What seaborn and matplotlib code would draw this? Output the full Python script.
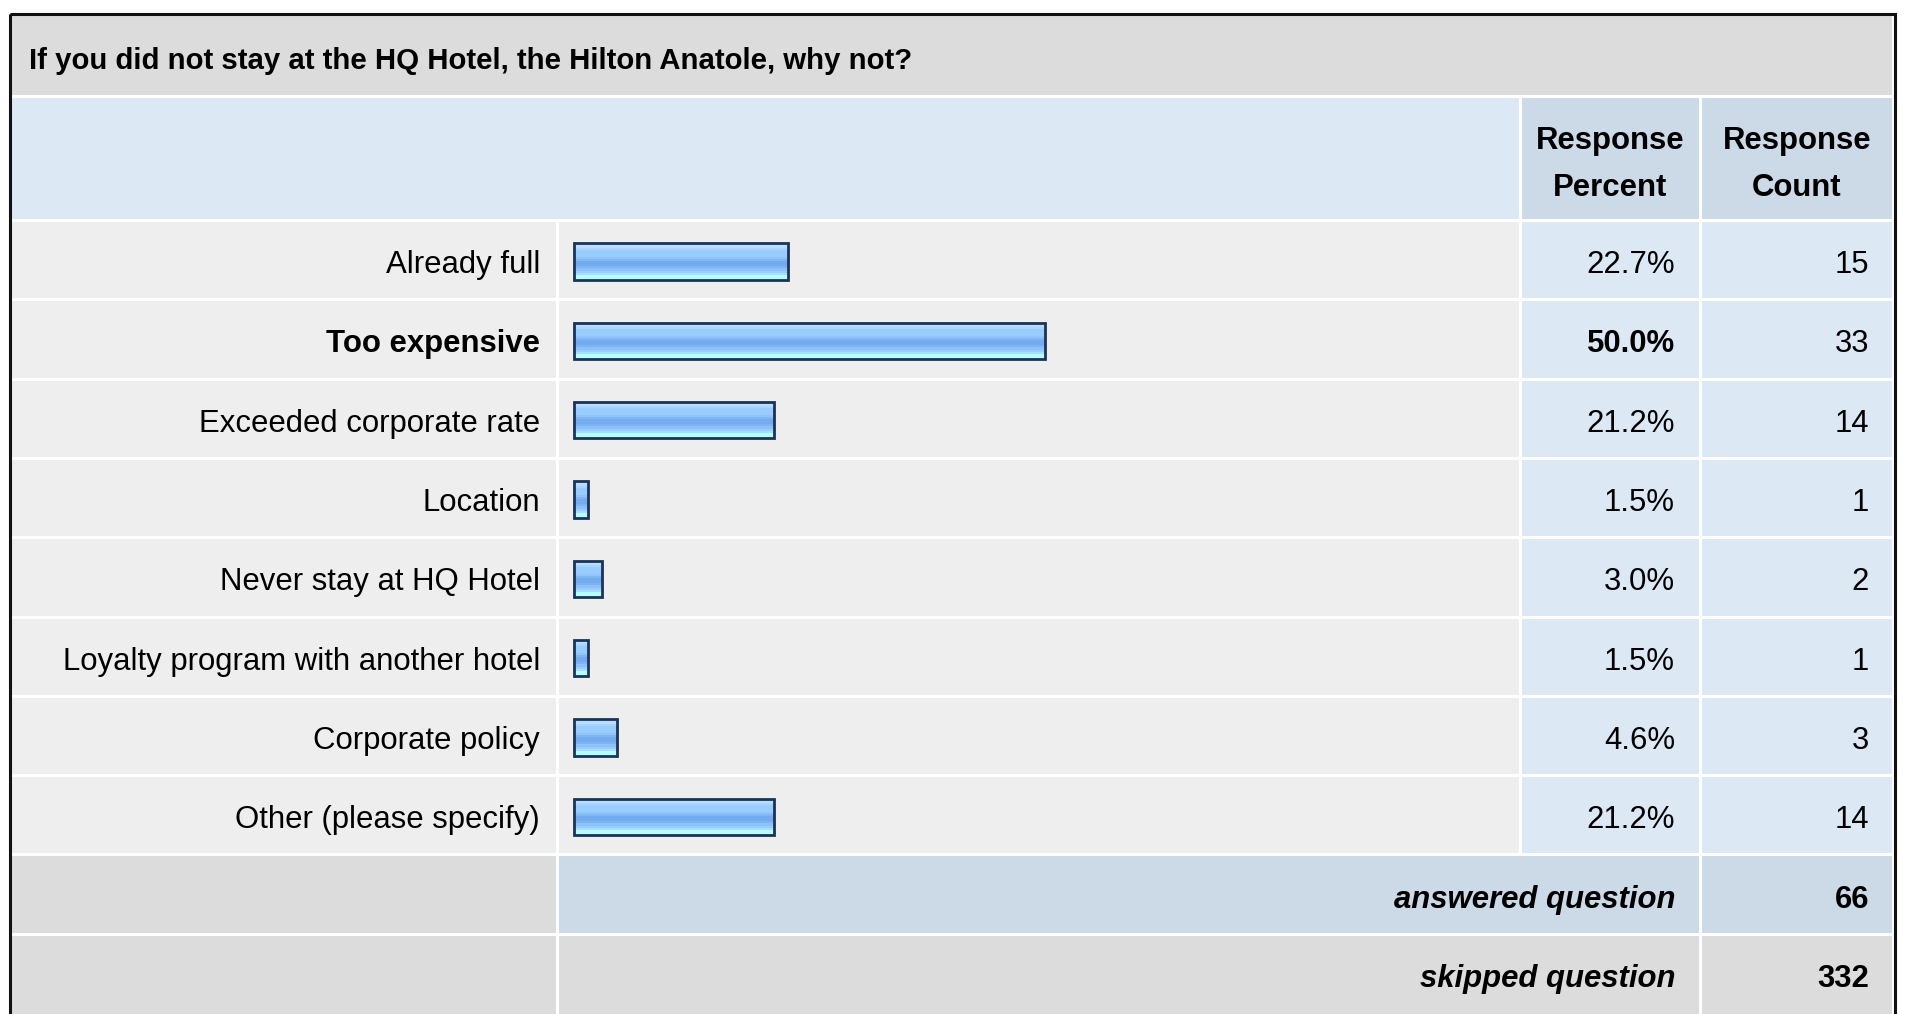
import numpy as np
import pandas as pd
import matplotlib.pyplot as plt
import seaborn as sns
from matplotlib.patches import Rectangle
from matplotlib.colors import to_rgb

# Dữ liệu
title = 'If you did not stay at the HQ Hotel, the Hilton Anatole, why not?'
answers = ['Already full', 'Too expensive', 'Exceeded corporate rate', 'Location',
           'Never stay at HQ Hotel', 'Loyalty program with another hotel',
           'Corporate policy', 'Other (please specify)']
percents = [22.7, 50.0, 21.2, 1.5, 3.0, 1.5, 4.6, 21.2]
counts = [15, 33, 14, 1, 2, 1, 3, 14]
answered = 66
skipped = 332

sns.set_style('white')
plt.rcParams['font.family'] = ['Liberation Sans', 'DejaVu Sans']
plt.rcParams['text.color'] = 'black'

W, H = 1909, 1014
fig = plt.figure(figsize=(W / 100, H / 100), dpi=100)
ax = fig.add_axes([0, 0, 1, 1])
ax.set_xlim(0, W)
ax.set_ylim(H, 0)
ax.axis('off')

GRAY = '#dcdcdc'
ROW = '#eeeeee'
BLUE = '#dde8f5'
BLUE2 = '#ccd9e6'
FS = 22.4

# cột (pixel)
L0, L1 = 12, 556
B0, B1 = 559, 1519
P0, P1 = 1522, 1699
C0, C1 = 1702, 1892
ROW_TOP, ROW_H, GAP = 222, 79.3, 3


def cell(x0, x1, y0, y1, color):
    ax.add_patch(Rectangle((x0, y0), x1 - x0, y1 - y0, facecolor=color, edgecolor='none'))


# tiêu đề
cell(L0, C1, 16, 95, GRAY)
ax.text(29, 69, title, fontsize=21.2, fontweight='bold', ha='left', va='baseline')

# header
cell(L0, B1, 98, 219, BLUE)
cell(P0, P1, 98, 219, BLUE2)
cell(C0, C1, 98, 219, BLUE2)
for cx, sub in [((P0 + P1) / 2, 'Percent'), ((C0 + C1) / 2, 'Count')]:
    ax.text(cx, 149, 'Response', fontsize=FS, fontweight='bold', ha='center', va='baseline')
    ax.text(cx, 196, sub, fontsize=FS, fontweight='bold', ha='center', va='baseline')

# các dòng dữ liệu
best = int(np.argmax(percents))
for i, (lab, p, c) in enumerate(zip(answers, percents, counts)):
    y0 = ROW_TOP + i * ROW_H
    y1 = y0 + ROW_H - GAP
    yb = (y0 + y1) / 2 + 13
    cell(L0, L1, y0, y1, ROW)
    cell(B0, B1, y0, y1, ROW)
    cell(P0, P1, y0, y1, BLUE)
    cell(C0, C1, y0, y1, BLUE)
    w = 'bold' if i == best else 'normal'
    ax.text(540, yb, lab, fontsize=FS, fontweight=w, ha='right', va='baseline')
    ax.text(1675, yb, f'{p:.1f}%', fontsize=FS, fontweight=w, ha='right', va='baseline')
    ax.text(1869, yb, str(c), fontsize=FS, ha='right', va='baseline')

# answered / skipped
n = len(answers)
y0 = ROW_TOP + n * ROW_H
rows = [('answered question', answered, BLUE2, BLUE2), ('skipped question', skipped, GRAY, GRAY)]
for lab, val, mid, right in rows:
    y1 = y0 + ROW_H - GAP
    yb = (y0 + y1) / 2 + 13
    cell(L0, L1, y0, y1, GRAY)
    cell(B0, P1, y0, y1, mid)
    cell(C0, C1, y0, y1 + (40 if lab.startswith('skipped') else 0), right)
    ax.text(1675, yb, lab, fontsize=FS, fontweight='bold', style='italic', ha='right', va='baseline')
    ax.text(1869, yb, str(val), fontsize=FS, fontweight='bold', ha='right', va='baseline')
    y0 += ROW_H
cell(L0, L1, y0 - GAP, H + 10, GRAY)
cell(B0, P1, y0 - GAP, H + 10, GRAY)

# khung ngoài
ax.add_patch(Rectangle((10, 13.5), 1884.5, 1030, facecolor='none', edgecolor='#111111', lw=2.2))

# biểu đồ thanh
bx = fig.add_axes([B0 / W, 1 - (ROW_TOP + n * ROW_H) / H, (B1 - B0) / W, n * ROW_H / H])
df = pd.DataFrame({'answer': answers, 'percent': percents})
sns.barplot(data=df, x='percent', y='answer', orient='h', ax=bx, width=0.46,
            color='#99ccff', errorbar=None)
px_per_pct = 9.42
xmin = -15 / px_per_pct
xmax = xmin + (B1 - B0) / px_per_pct
grad = ['#cde7ff', '#b9ddff', '#a8d4ff', '#99ccff', '#99ccff', '#99ccff', '#90c4fb',
        '#80b6f3', '#74aaee', '#74aaee', '#7fb4f3', '#8cc1f9', '#9acdff', '#a9dcff',
        '#b3ffff', '#b3ffff']
img = np.array([to_rgb(cc) for cc in grad])[:, None, :]
for bar in bx.patches:
    x, y = bar.get_x(), bar.get_y()
    bw, bh = bar.get_width(), bar.get_height()
    im = bx.imshow(img, extent=[x, x + bw, y + bh, y], aspect='auto',
                   interpolation='nearest', zorder=1)
    im.set_clip_path(bar)
    bar.set_facecolor('none')
    bar.set_edgecolor('#1b3358')
    bar.set_linewidth(2.0)
    bar.set_zorder(2)
bx.set_xlim(xmin, xmax)
bx.set_ylim(n - 0.5, -0.5)
bx.axis('off')

fig.savefig('out.png', dpi=100)
